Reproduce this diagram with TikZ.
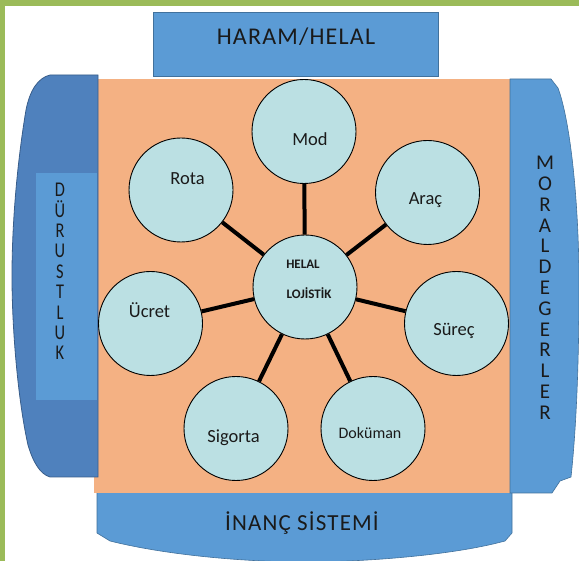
\documentclass[tikz,border=0pt]{standalone}
\usepackage{fontspec}
\setmainfont{Carlito}
\newfontfamily\narrowfont[FakeStretch=0.78]{Carlito}
\newfontfamily\spacedfont[LetterSpace=5]{Carlito}
\definecolor{framegreen}{HTML}{9BBB59}
\definecolor{boxblue}{HTML}{5B9BD5}
\definecolor{boxedge}{HTML}{41719C}
\definecolor{darkpanel}{HTML}{4F81BD}
\definecolor{darkedge}{HTML}{385D8A}
\definecolor{orangebg}{HTML}{F4B183}
\definecolor{cyanfill}{HTML}{BBE0E3}
\definecolor{txt}{HTML}{1A1A1A}
\begin{document}
\begin{tikzpicture}[x=1pt,y=-1pt,
  panel/.style={fill=boxblue,draw=boxedge,line width=0.6pt},
  darkp/.style={fill=darkpanel,draw=darkedge,line width=0.8pt},
  bubble/.style={circle,draw=black,line width=0.9pt,fill=cyanfill,minimum size=104pt,inner sep=0pt},
  conn/.style={line width=4pt,black},
  lbl/.style={font=\fontsize{18.5}{20}\selectfont,text=txt,inner sep=0pt,anchor=base},
  hublbl/.style={font=\fontsize{13}{14}\selectfont\bfseries,text=txt,inner sep=0pt,anchor=base},
  vtext/.style={text=txt,inner sep=0pt,align=center,anchor=north}]
\useasboundingbox (0,0) rectangle (579,561);
\fill[white] (0,0) rectangle (579,561);
\fill[framegreen] (0,0) rectangle (579,6);
\fill[framegreen] (0,0) rectangle (5,561);
% bottom panel
\filldraw[panel] (97,485) -- (97,533) -- (110,541) .. controls (170,556) and (250,562) .. (305,562)
  .. controls (360,562) and (450,556) .. (505,541) -- (512,533) -- (512,485) -- cycle;
% orange background
\fill[orangebg] (94,79) rectangle (510,493);
% left panel
\filldraw[darkp] (98,75) -- (50,75) .. controls (38,78) and (30,90) .. (26,110)
  .. controls (16,170) and (12,230) .. (12,276) .. controls (12,330) and (18,400) .. (28,445)
  .. controls (33,462) and (40,474) .. (50,477) -- (98,477) -- cycle;
\fill[boxblue] (36,173) rectangle (97,400);
% right panel
\filldraw[panel] (510,79) -- (551,79) -- (558,88) .. controls (570,120) and (579,200) .. (579,285)
  .. controls (579,380) and (575,440) .. (571,477) -- (560,481) -- (552,493) -- (510,493) -- cycle;
% top box
\filldraw[panel] (153,12) rectangle (438,76);
\node[inner sep=0pt,anchor=base,text=txt,font=\spacedfont\fontsize{24}{26}\selectfont] (haram) at (296,45) {HARAM/HELAL};
\node[inner sep=0pt,anchor=base,text=txt,font=\spacedfont\fontsize{23}{26}\selectfont] (inanc) at (302,530) {İNANÇ SİSTEMİ};
\node[vtext,font=\narrowfont\fontsize{21}{20.4}\selectfont] (durust) at (60,183) {D\\Ü\\R\\U\\S\\T\\L\\U\\K};
\node[vtext,font=\fontsize{21}{20.8}\selectfont] (moral) at (545,156) {M\\O\\R\\A\\L\\D\\E\\G\\E\\R\\L\\E\\R};
% circles
\node[bubble] (hub) at (305,287) {};
\node[bubble] (mod) at (304,131.5) {};
\node[bubble] (rota) at (181,190) {};
\node[bubble] (arac) at (427.5,192.5) {};
\node[bubble] (ucret) at (150.5,323.5) {};
\node[bubble] (surec) at (456.5,323.5) {};
\node[bubble] (sigorta) at (236,428.5) {};
\node[bubble] (dokuman) at (373,428.5) {};
\foreach \n in {mod,rota,arac,ucret,surec,sigorta,dokuman}
  \draw[conn] (hub) -- (\n);
% labels
\node[lbl] (tmod) at (310,145.5) {Mod};
\node[lbl] (trota) at (187.5,185) {Rota};
\node[lbl] (tarac) at (425.5,205) {Araç};
\node[lbl] (tucret) at (149.5,317.5) {Ücret};
\node[lbl] (tsurec) at (454,335.5) {Süreç};
\node[lbl] (tsigorta) at (233.5,443) {Sigorta};
\node[lbl,font=\fontsize{16}{18}\selectfont] (tdokuman) at (370,439) {Doküman};
\node[hublbl] (thelal) at (303,269) {HELAL};
\node[hublbl] (tloj) at (309,299) {LOJİSTİK};
\end{tikzpicture}
\end{document}
